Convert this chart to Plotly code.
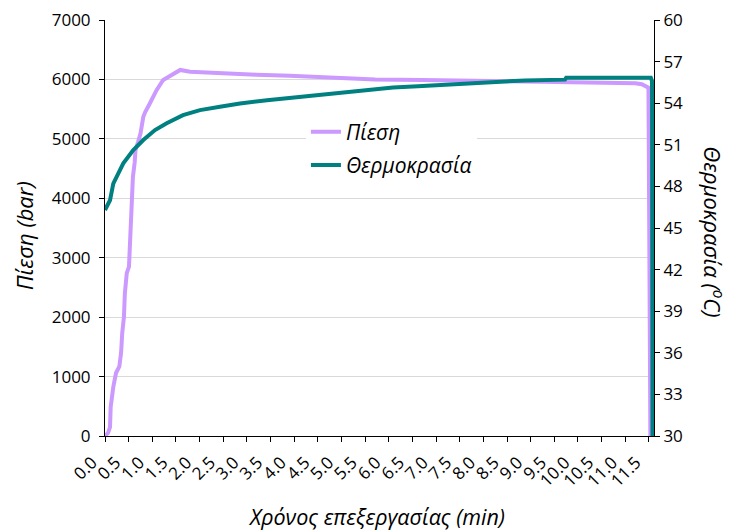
import plotly.graph_objects as go

# ---- data ----
pressure_time = [0.00, 0.063, 0.106, 0.12, 0.175, 0.233, 0.303, 0.34, 0.364, 0.40, 0.42,
                 0.46, 0.507, 0.528, 0.55, 0.57, 0.59, 0.627, 0.645, 0.70, 0.75, 0.81,
                 0.85, 0.95, 1.09, 1.23, 1.45, 1.59, 1.80, 2.50, 3.20, 3.91, 4.97,
                 5.71, 6.71, 7.78, 8.84, 9.70, 10.47, 10.90, 11.21, 11.35, 11.42,
                 11.49, 11.51, 11.53]
pressure_bar = [0, 50, 150, 490, 825, 1060, 1170, 1400, 1730, 2000, 2400,
                2740, 2850, 3250, 3630, 3970, 4360, 4600, 4810, 4950, 5090, 5370,
                5450, 5600, 5820, 5990, 6100, 6160, 6130, 6100, 6080, 6060, 6030,
                6000, 5990, 5980, 5965, 5950, 5945, 5940, 5935, 5920, 5880,
                5860, 3000, 0]

temp_time = [0.00, 0.106, 0.175, 0.387, 0.598, 0.810, 1.057, 1.304, 1.649, 2.008,
             2.431, 2.854, 3.425, 3.975, 4.545, 5.116, 5.603, 6.089, 6.617, 7.146,
             7.780, 8.203, 8.879, 9.725, 9.75, 11.54, 11.565, 11.575]
temp_c = [46.3, 47.0, 48.2, 49.66, 50.62, 51.34, 52.06, 52.55, 53.14, 53.5,
          53.74, 53.98, 54.22, 54.41, 54.63, 54.85, 55.0, 55.13, 55.23, 55.33,
          55.45, 55.52, 55.64, 55.70, 55.83, 55.83, 55.6, 30.0]

x_tick_values = [0.0, 0.5, 1.0, 1.5, 2.0, 2.5, 3.0, 3.5, 4.0, 4.5, 5.0, 5.5,
                 6.0, 6.5, 7.0, 7.5, 8.0, 8.5, 9.0, 9.5, 10.0, 10.5, 11.0, 11.5]
x_tick_labels = ["0.0", "0.5", "1.0", "1.5", "2.0", "2.5", "3.0", "3.5", "4.0", "4.5",
                 "5.0", "5.5", "6.0", "6.5", "7.0", "7.5", "8.0", "8.5", "9.0", "9.5",
                 "10.0", "10.5", "11.0", "11.5"]
y_left_ticks = [0, 1000, 2000, 3000, 4000, 5000, 6000, 7000]
y_right_ticks = [30, 33, 36, 39, 42, 45, 48, 51, 54, 57, 60]

series_names = ["Πίεση", "Θερμοκρασία"]
x_title = "Χρόνος επεξεργασίας (min)"
y_left_title = "Πίεση (bar)"
y_right_title = "Θερμοκρασία (<sup>o</sup>C)"

FONT = "Open Sans"
X_RANGE = [0, 11.607]

fig = go.Figure()
fig.add_trace(go.Scatter(x=pressure_time, y=pressure_bar, name=series_names[0],
                         mode="lines", line=dict(color="#CC99FF", width=4),
                         legendgroup="a", yaxis="y"))
fig.add_trace(go.Scatter(x=temp_time, y=temp_c, name=series_names[1],
                         mode="lines", line=dict(color="#008080", width=4),
                         legendgroup="b", yaxis="y2"))

axis_common = dict(showline=True, linecolor="black", linewidth=1, ticks="outside",
                   tickcolor="black", ticklen=5, tickwidth=1, zeroline=False,
                   automargin=False,
                   tickfont=dict(family=FONT, size=17, color="black"))
inner_common = dict(ticks="inside", ticklen=4, tickcolor="black", tickwidth=1,
                    showticklabels=False, showgrid=False, showline=False,
                    zeroline=False, automargin=False, tickmode="array")

fig.update_layout(
    width=730, height=531,
    margin=dict(l=105, r=76, t=20, b=95, autoexpand=False),
    paper_bgcolor="white", plot_bgcolor="white",
    font=dict(family=FONT, color="black"),
    xaxis=dict(range=X_RANGE, tickmode="array", tickvals=x_tick_values,
               ticktext=x_tick_labels, tickangle=-45, showgrid=False,
               ticklabelshift=-13, ticklabelstandoff=4, **axis_common),
    yaxis=dict(range=[0, 7000], tickmode="array", tickvals=y_left_ticks,
               showgrid=True, gridcolor="#D9D9D9", gridwidth=1,
               ticklabelstandoff=5, **axis_common),
    yaxis2=dict(range=[30, 60], tickmode="array", tickvals=y_right_ticks,
                overlaying="y", side="right", showgrid=False, **axis_common),
    # inner halves of the crossing tick marks
    xaxis2=dict(range=X_RANGE, overlaying="x", tickvals=x_tick_values, **inner_common),
    yaxis3=dict(range=[0, 7000], overlaying="y", side="left",
                tickvals=y_left_ticks, **inner_common),
    yaxis4=dict(range=[30, 60], overlaying="y", side="right",
                tickvals=y_right_ticks, **inner_common),
    showlegend=True,
    legend=dict(x=0.366, y=0.78, xanchor="left", yanchor="top", bgcolor="white",
                font=dict(family=FONT, size=21, color="black", style="italic"),
                traceorder="grouped", tracegroupgap=3),
)

fig.add_annotation(text=x_title, xref="paper", yref="paper", x=0.4954, y=-0.1947,
                   xanchor="center", yanchor="middle", showarrow=False,
                   font=dict(family=FONT, size=21.5, style="italic"))
fig.add_annotation(text=y_left_title, xref="paper", yref="paper", x=-0.1475, y=0.48,
                   xanchor="center", yanchor="middle", textangle=-90, showarrow=False,
                   font=dict(family=FONT, size=22, style="italic"))
fig.add_annotation(text=y_right_title, xref="paper", yref="paper", x=1.109, y=0.49,
                   xanchor="center", yanchor="middle", textangle=90, showarrow=False,
                   font=dict(family=FONT, size=22, style="italic"))

fig.write_html("out.html", config={"displayModeBar": False},
               post_script="document.body.style.margin='0px';")
